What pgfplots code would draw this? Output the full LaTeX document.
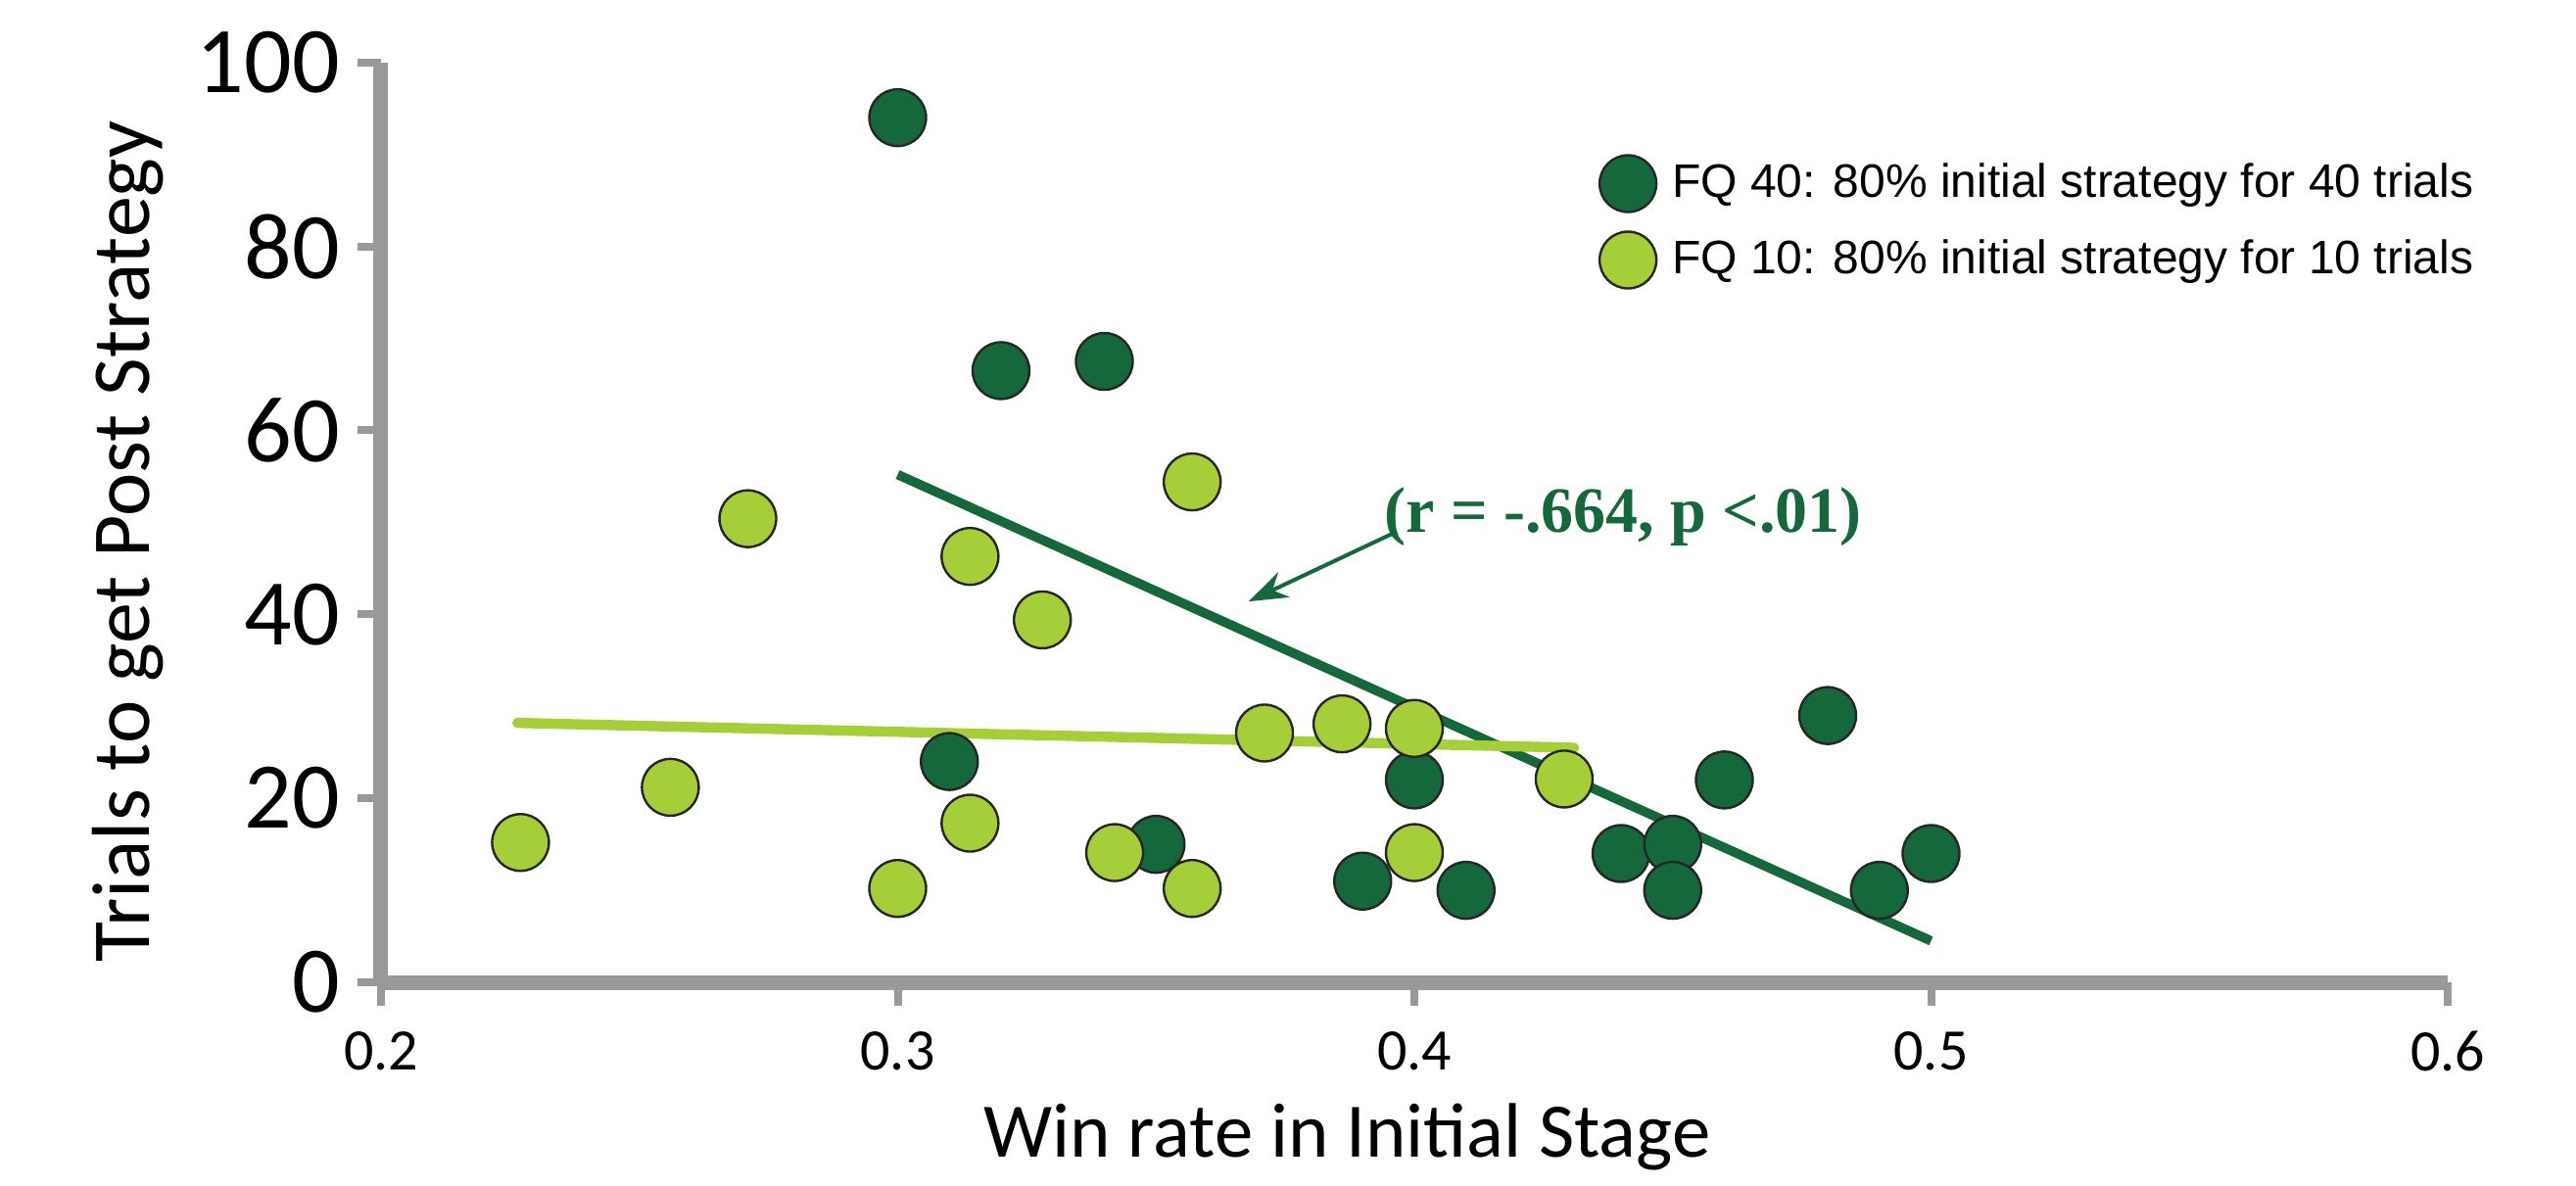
\documentclass[border=0pt]{standalone}
\usepackage{pgfplots}
\pgfplotsset{compat=1.18}
\usepackage{fontspec}
\setmainfont{Carlito}
\newfontfamily\arialfont{Liberation Sans}
\newfontfamily\timesfont{Liberation Serif}
\usetikzlibrary{arrows.meta}
\definecolor{dkg}{RGB}{20,104,60}
\definecolor{ltg}{RGB}{166,206,57}
\definecolor{axgray}{RGB}{153,153,153}

\pgfplotstableread{
x y
0.300 94
0.320 66.5
0.340 67.5
0.310 24
0.350 15
0.390 11
0.400 22
0.410 10
0.440 14
0.450 15
0.450 10
0.460 22
0.480 29
0.490 10
0.500 14
}\fqforty

\pgfplotstableread{
x y
0.227 15.2
0.256 21.2
0.271 50.4
0.300 10.2
0.314 46.3
0.314 17.3
0.328 39.4
0.342 14.1
0.357 54.4
0.357 10.2
0.371 27.1
0.386 28.1
0.400 27.6
0.400 14.1
0.429 22.1
}\fqten

\begin{document}
\begin{tikzpicture}
\useasboundingbox (-97.25pt,-51.75pt) rectangle (560.25pt,250.75pt);
\begin{axis}[
  at={(0,0)}, anchor=south west,
  scale only axis, width=527.5pt, height=234.8pt,
  xmin=0.2, xmax=0.6, ymin=0, ymax=100,
  axis x line=bottom, axis y line=left,
  axis line style={axgray, line width=3.75pt, -},
  xtick={0.2,0.3,0.4,0.5,0.6}, ytick={0,20,40,60,80,100},
  xticklabels={0.2,0.3,0.4,0.5,0.6},
  tick align=outside,
  major tick length=6pt,
  tick style={axgray, line width=2pt},
  /pgf/number format/assume math mode=true,
  x tick label style={font=\fontsize{15}{15}\selectfont, yshift=-3pt},
  y tick label style={font=\fontsize{24}{24}\selectfont, xshift=-1pt},
  xlabel={Win rate in Initial Stage},
  ylabel={Trials to get Post Strategy},
  xlabel style={font=\fontsize{19.7}{19.7}\selectfont, at={(axis description cs:0.4675,-0.1682)}, anchor=center},
  ylabel style={font=\fontsize{21}{21}\selectfont, at={(axis description cs:-0.1223,0.479)}, anchor=center},
  clip=false,
  legend style={draw=none, fill=none, font=\arialfont\fontsize{12}{12}\selectfont,
    at={(axis cs:0.4357,90)}, anchor=north west, row sep=5pt, inner sep=0pt,
    nodes={inner sep=1pt}},
  legend cell align=left,
  legend image code/.code={\draw[#1] plot coordinates {(0pt,0pt)};},
]
\addplot[only marks, mark=*, mark size=7.25pt, mark options={fill=dkg, draw=black!85, line width=0.6pt}] table {\fqforty};
\addlegendentry{\hspace{3pt}FQ 40: 80\% initial strategy for 40 trials}
\addplot[only marks, mark=*, mark size=7.25pt, mark options={fill=ltg, draw=black!85, line width=0.6pt}] table {\fqten};
\addlegendentry{\hspace{3pt}FQ 10: 80\% initial strategy for 10 trials}
\addplot[dkg, line width=2.4pt, forget plot] coordinates {(0.300,55.2) (0.500,4.5)};
\addplot[ltg, line width=2.6pt, line cap=round, forget plot] coordinates {(0.2264,28.2) (0.4309,25.5)};
\draw[dkg, line width=1pt, -{Stealth[length=10pt,width=7pt]}] (axis cs:0.3966,49.0) -- (axis cs:0.3679,41.4);
\node[text=dkg, font=\timesfont\bfseries\fontsize{16.5}{16.5}\selectfont, inner sep=0pt] at (axis cs:0.4404,50.6) {(r = -.664, p <.01)};
\end{axis}
\end{tikzpicture}
\end{document}
